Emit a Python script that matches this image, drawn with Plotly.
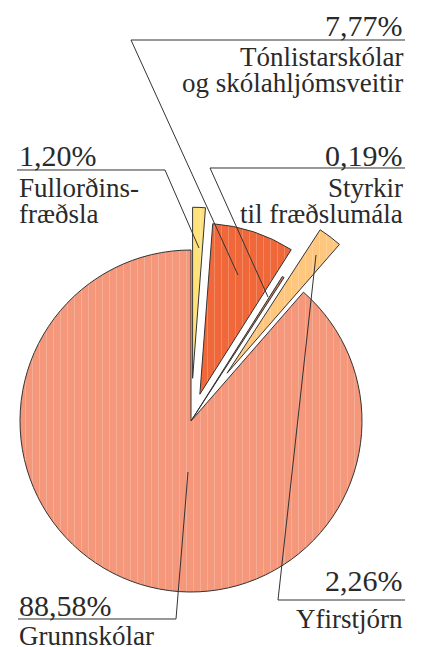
import math
import plotly.graph_objects as go

# ---- data ----
categories = ["Fullorðinsfræðsla", "Tónlistarskólar og skólahljómsveitir",
              "Styrkir til fræðslumála", "Yfirstjórn", "Grunnskólar"]
shares = [1.20, 7.77, 0.19, 2.26, 88.58]
pct_labels = ["1,20%", "7,77%", "0,19%", "2,26%", "88,58%"]
name_lines = [["Fullorðins-", "fræðsla"],
              ["Tónlistarskólar", "og skólahljómsveitir"],
              ["Styrkir", "til fræðslumála"],
              ["Yfirstjórn"],
              ["Grunnskólar"]]

# ---- style ----
OFF = 8                      # default page (body) margin
W, H = 424 - OFF, 647 - OFF
colors = ["#FFE27A", "#F0683A", "#C2745C", "#FFC67E", "#F4977A"]
pulls = [0.25, 0.165, 0.0, 0.35, 0.0]
CX, CY, R = 191 - OFF, 421 - OFF, 171          # pie centre / radius in px
LINE = "#333333"
FONT = "Liberation Serif, DejaVu Serif, serif"

fig = go.Figure()

total = sum(shares)
cum = 0
mids = []
for v in shares:
    mids.append((cum + v / 2) / total * 2 * math.pi)
    cum += v

def pie_trace(visible_idx, cx, cy):
    vis = [i in visible_idx for i in range(len(shares))]
    cols = [colors[i] if vis[i] else "rgba(0,0,0,0)" for i in range(len(shares))]
    lw = [1 if vis[i] else 0 for i in range(len(shares))]
    shp = ["|" if vis[i] else "" for i in range(len(shares))]
    return go.Pie(
        labels=categories, values=shares, sort=False, direction="clockwise",
        rotation=0, textinfo="none", hoverinfo="skip", showlegend=False,
        marker=dict(colors=cols, line=dict(color=LINE, width=lw),
                    pattern=dict(shape=shp, fgcolor="white", fgopacity=0.25,
                                 bgcolor=cols, size=7, solidity=0.12)),
        domain=dict(x=[(cx - R) / W, (cx + R) / W],
                    y=[1 - (cy + R) / H, 1 - (cy - R) / H]),
    )

# slices without pull share the centre
fig.add_trace(pie_trace([i for i in range(len(shares)) if pulls[i] == 0], CX, CY))
# pulled slices: shift their own centre along the mid angle
for i, p in enumerate(pulls):
    if p == 0:
        continue
    cx = CX + p * R * math.sin(mids[i])
    cy = CY - p * R * math.cos(mids[i])
    fig.add_trace(pie_trace([i], cx, cy))

# ---- labels ----
annots = []
def txt(s, x, y, anchor, size):
    annots.append(dict(text=s, x=(x - OFF) / W, y=1 - (y - OFF) / H,
                       xref="paper", yref="paper",
                       xanchor=anchor, yanchor="middle", showarrow=False,
                       font=dict(family=FONT, size=size, color="#2a2a2a")))

PS, LS = 30, 27
# (x, anchor, pct centre y, first name centre y) in window px
label_pos = [(17, "left", 155, 188),
             (405, "right", 25, 57),
             (405, "right", 155, 188),
             (405, "right", 580, 619),
             (17, "left", 605, 636)]
for i, (x, anc, py, ny) in enumerate(label_pos):
    txt(pct_labels[i], x, py, anc, PS)
    for k, line in enumerate(name_lines[i]):
        txt(line, x, ny + k * 26, anc, LS)

# ---- leader lines (underline + pointer), window px ----
leaders = [
    [(17, 170), (165, 170), (199, 248)],
    [(405, 40), (131, 40), (238, 275)],
    [(405, 168), (210, 168), (268, 297)],
    [(405, 600), (278, 600), (316, 255)],
    [(18, 619), (176, 619), (188, 472)],
]
shapes = []
for pts in leaders:
    path = "M " + " L ".join(f"{(x - OFF) / W:.5f},{1 - (y - OFF) / H:.5f}" for x, y in pts)
    shapes.append(dict(type="path", path=path, xref="paper", yref="paper",
                       line=dict(color=LINE, width=1)))

fig.update_layout(width=W, height=H, margin=dict(l=0, r=0, t=0, b=0),
                  paper_bgcolor="white", plot_bgcolor="white",
                  annotations=annots, shapes=shapes)

fig.write_html("out.html")
